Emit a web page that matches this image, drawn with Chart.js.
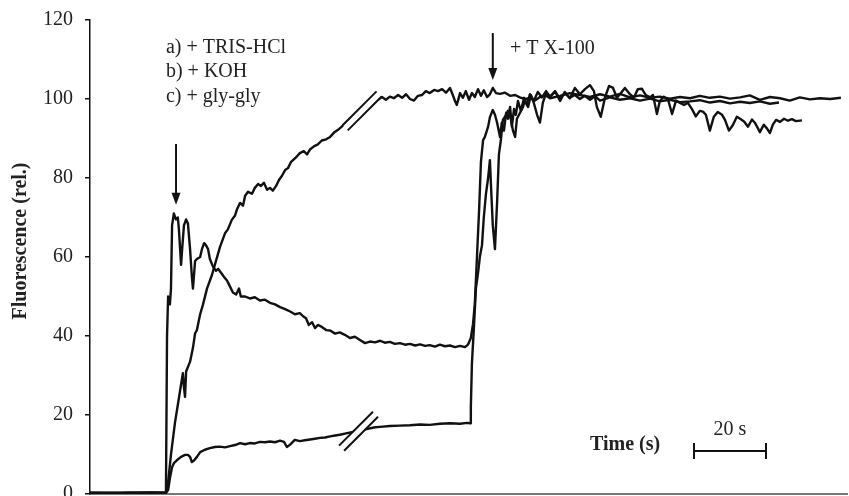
<!DOCTYPE html>
<html><head><meta charset="utf-8">
<script src="https://cdn.jsdelivr.net/npm/chart.js@4"></script>
<style>html,body{margin:0;padding:0;background:#fff;}</style>
</head><body>
<canvas id="c" width="849" height="496"></canvas>
<script>
// time (s), fluorescence (rel.)
const curveTrisHCl = [[0,0.2],[11.1,0.4],[21.1,0.3],[21.4,40],[21.7,50],[22.2,48],[22.5,52],[22.8,68],[23.3,71],[23.9,69.5],[24.4,70],[24.7,67],[25.3,58],[25.6,62],[26.1,68],[26.7,69.5],[27.2,68.5],[27.8,62],[28.3,55],[28.6,52],[29.2,59],[29.7,59.5],[30.6,60],[31.1,62],[31.7,63.5],[32.2,63],[32.8,62],[33.3,59.5],[34.2,57.5],[35.0,56.5],[35.6,57],[36.4,56],[37.2,55],[38.1,54],[38.9,52.5],[39.7,51],[40.6,50.5],[41.4,52],[41.9,50],[43.1,50],[44.4,49.5],[45.8,49.8],[47.2,49],[48.6,49.2],[50.0,48.4],[51.4,48],[52.8,47.3],[54.2,46.8],[55.6,46.2],[56.9,45.5],[58.3,45.8],[59.2,45],[60.0,44.5],[60.8,42.8],[61.7,43.5],[62.5,42],[63.3,42.8],[64.4,42.3],[65.6,41.5],[66.7,41.4],[68.1,40.6],[69.4,40.9],[70.8,40.3],[72.2,39.5],[73.6,39.8],[75.0,39],[76.4,38.2],[77.8,38.6],[79.2,38.4],[80.6,38.8],[81.9,38.3],[83.3,38.5],[84.7,38],[86.1,38.2],[87.5,37.8],[88.9,38],[90.3,37.6],[91.7,37.9],[93.1,37.5],[94.4,37.7],[95.8,37.3],[97.2,37.8],[98.6,37.4],[100.0,37.6],[101.4,37.2],[102.8,37.5],[104.2,37.2],[105.0,37.8],[105.8,39.5],[106.4,43],[106.9,48],[107.5,60],[108.1,72],[108.6,84],[109.2,89.6],[109.7,90.4],[110.6,93],[111.1,95.4],[111.9,97.2],[112.5,96],[113.1,94],[113.9,90.4],[114.4,94],[115.0,92],[115.6,96.5],[116.1,95],[116.7,98],[117.2,93],[117.8,97.5],[118.3,96],[118.9,99.5],[119.7,97],[120.6,100.3],[121.4,98.5],[122.2,101.2],[123.3,99.5],[124.4,101.8],[125.6,100.4],[126.7,102],[127.8,100.6],[129.2,101.8],[130.6,100.2],[131.9,101.5],[133.3,100.3],[134.7,101],[136.1,100],[137.5,100.8],[138.9,99.8],[140.3,100.7],[141.7,99.6],[144.4,100.4],[147.2,99.8],[150.0,100.2],[152.8,99.6],[155.6,100.1],[158.3,99.4],[161.1,99.8],[163.9,99.2],[166.7,99.4],[169.4,99.7],[172.2,99.1],[175.0,99.5],[177.8,98.9],[180.6,99.3],[183.3,99],[186.1,99.4],[188.9,98.8],[191.4,99.1]];

const curveKOH = [[0,0.3],[8.3,0.2],[16.7,0.4],[21.1,0.3],[21.7,3],[22.5,10],[23.6,18],[25.0,26],[25.8,30.6],[26.1,27],[26.4,24.6],[26.7,31],[27.8,33.5],[28.6,37],[29.2,40.7],[29.7,41.5],[30.6,45.5],[31.4,48],[32.5,52],[33.9,55.5],[35.0,59],[36.1,62.5],[37.5,66],[38.3,67],[39.4,69.4],[40.3,70.5],[40.8,72],[41.7,73.7],[42.5,73],[43.1,75.5],[43.9,76.5],[45.0,76],[45.8,77.5],[46.7,78.5],[47.5,78],[48.3,78.8],[49.2,77],[50.0,77.5],[50.8,76.8],[51.7,78],[52.5,79.5],[53.3,80.5],[54.2,82],[55.0,82.5],[55.8,84],[56.7,84.8],[57.5,85.5],[58.3,86.3],[59.4,86.8],[60.3,86],[61.1,87.2],[62.2,88],[63.3,88.5],[64.4,89.5],[65.6,89.8],[66.7,90.4],[67.8,91.5],[68.9,92.2],[69.7,92.8],[70.6,93.6],[71.7,94.5],[81.1,100.5],[82.2,99.8],[83.3,100.6],[84.4,100.2],[85.6,101],[86.7,100.3],[87.8,101.2],[88.9,100],[90.0,99.6],[91.1,100.8],[92.2,101],[93.3,102],[94.4,101.5],[95.6,102.3],[96.7,102],[97.8,102.5],[98.9,101.6],[100.0,102.8],[100.8,101],[101.4,99.5],[101.9,98.5],[102.8,101.5],[103.6,100.3],[104.4,102],[105.3,99.8],[106.1,101.5],[106.9,100.5],[107.8,102.5],[108.6,100.8],[109.4,102.2],[110.3,100.5],[111.1,101.2],[111.9,102.8],[112.8,101.5],[113.9,101.3],[115.3,101.6],[116.7,100.8],[118.1,101],[119.4,100.4],[120.8,100],[122.2,100.2],[123.6,99.6],[125.0,100.5],[126.4,101],[127.8,100.2],[130.6,100.8],[133.3,101.5],[136.1,101],[138.9,100.5],[141.7,101.2],[144.4,100.6],[147.2,101.3],[150.0,100.4],[152.8,100.9],[155.6,100.3],[158.3,100.6],[161.1,100.1],[163.9,100.5],[166.7,100.2],[169.4,100.8],[172.2,100.3],[175.0,100.6],[177.8,100.1],[180.6,100.4],[183.3,100.9],[186.1,99.8],[188.9,100.5],[191.7,100.2],[194.4,99.6],[197.2,100.4],[200.0,99.9],[202.8,100.2],[205.6,100],[208.6,100.3]];

const curveGlyGly = [[0,0.3],[13.9,0.2],[21.1,0.3],[21.7,1],[22.2,4],[22.8,6.8],[23.3,7.8],[24.2,8.6],[25.3,9.4],[26.4,9.9],[27.2,9.9],[27.8,9.4],[28.3,8.1],[28.9,8.5],[29.7,9.4],[30.6,10.6],[31.9,11.2],[33.3,11.6],[34.7,11.9],[36.1,12],[37.5,11.8],[38.9,12.1],[40.3,12.4],[41.7,12.9],[43.1,12.6],[44.4,12.9],[45.8,12.8],[47.2,13.2],[48.6,13.1],[50.0,13.3],[51.4,13.1],[52.8,13.5],[53.9,13.2],[54.7,11.9],[55.6,12.5],[56.9,13.7],[58.3,13.4],[59.7,13.6],[61.1,13.8],[62.5,14],[63.9,14.2],[65.3,14.3],[66.7,14.6],[68.1,14.8],[69.4,15],[70.8,15.3],[79.2,16.9],[80.6,17],[83.3,17.2],[86.1,17.3],[88.9,17.4],[91.7,17.6],[94.4,17.5],[97.2,17.8],[100.0,17.9],[102.8,17.8],[104.7,18],[105.6,17.9],[105.8,22],[106.1,33],[106.7,43],[107.2,52],[107.8,56],[108.3,60],[108.9,63],[109.4,70],[110.0,76],[110.6,80],[111.1,84.5],[111.4,78],[111.9,68],[112.5,62],[113.1,74],[113.6,86],[114.2,90],[114.7,94.7],[115.6,96],[116.1,97],[116.9,95],[117.5,92],[118.1,90.4],[118.6,95],[119.4,96.4],[120.3,98],[120.8,99.7],[121.7,98],[122.5,101],[123.3,99],[124.2,96],[125.0,94],[125.8,99],[126.7,101.5],[127.8,100.5],[129.2,102],[130.6,99.5],[131.9,101.8],[133.3,100.2],[134.7,102.8],[136.1,101.2],[137.5,102.5],[138.9,103.5],[140.0,102],[140.8,98],[141.9,95.5],[143.1,100.5],[144.2,103.3],[145.3,102.8],[146.4,100.3],[147.5,101.5],[148.6,102.8],[150.0,101.2],[151.1,100.4],[152.2,102.5],[153.3,102.6],[154.4,101],[155.6,100.4],[156.4,101],[157.5,96.2],[158.3,99.5],[159.4,100.6],[160.6,99.8],[161.7,96.2],[162.8,99.6],[163.9,99],[165.0,98.5],[166.1,99],[167.2,97.5],[168.3,95.6],[169.4,97],[170.3,96.8],[171.1,96],[172.2,92],[173.3,95.5],[174.4,96.7],[175.6,96],[176.4,94.7],[177.5,92],[178.6,93.4],[179.7,95.5],[180.6,95],[181.7,94.3],[182.8,93],[183.9,94.8],[184.7,94],[185.6,92.5],[186.1,91.6],[187.2,93.5],[188.1,92.5],[188.9,91.4],[189.7,93.5],[190.6,94.7],[191.7,94.2],[192.8,95],[193.9,94.5],[195.0,94.9],[196.1,94.4],[197.8,94.6]];

const yTicks = [0, 20, 40, 60, 80, 100, 120];
const legendLines = ['a) + TRIS-HCl', 'b) + KOH', 'c) + gly-gly'];
const additionLabel = '+ T X-100';
const xTitle = 'Time (s)';
const yTitle = 'Fluorescence (rel.)';
const scaleBarSeconds = 20;
const addTimes = [23.9, 111.9]; // arrow times (s)

const SERIF = "'Liberation Serif', 'Times New Roman', serif";
const toXY = a => a.map(p => ({x: p[0], y: p[1]}));
const ds = (label, arr) => ({label, data: toXY(arr), borderColor: '#111', borderWidth: 2.4,
  pointRadius: 0, tension: 0, fill: false, borderJoinStyle: 'round'});

const deco = {
  id: 'deco',
  afterDatasetsDraw(chart) {
    const {ctx, scales: {x, y}} = chart;
    const X = v => x.getPixelForValue(v), Y = v => y.getPixelForValue(v);
    ctx.save();
    function brk(t, v) {
      const cx = X(t), cy = Y(v);
      const ux = 0.707, uy = -0.707, nx = 0.707, ny = 0.707, h = 24, off = 3.6;
      ctx.lineCap = 'butt';
      ctx.strokeStyle = '#fff'; ctx.lineWidth = 6;
      ctx.beginPath(); ctx.moveTo(cx - ux*h, cy - uy*h); ctx.lineTo(cx + ux*h, cy + uy*h); ctx.stroke();
      ctx.strokeStyle = '#111'; ctx.lineWidth = 2;
      [-off, off].forEach(o => {
        const ox = cx + nx*o, oy = cy + ny*o;
        ctx.beginPath(); ctx.moveTo(ox - ux*h, oy - uy*h); ctx.lineTo(ox + ux*h, oy + uy*h); ctx.stroke();
      });
    }
    brk(75.6, 97.0);
    brk(74.6, 15.9);
    function arrow(t, v0, v1) {
      const px = X(t), y0 = Y(v0), y1 = Y(v1);
      ctx.strokeStyle = '#111'; ctx.fillStyle = '#111'; ctx.lineWidth = 2;
      ctx.beginPath(); ctx.moveTo(px, y0); ctx.lineTo(px, y1 - 10); ctx.stroke();
      ctx.beginPath(); ctx.moveTo(px - 4.5, y1 - 12); ctx.lineTo(px + 4.5, y1 - 12); ctx.lineTo(px, y1); ctx.closePath(); ctx.fill();
    }
    arrow(addTimes[0], 88.6, 73.2);
    arrow(addTimes[1], 116.7, 104.8);
    ctx.fillStyle = '#222';
    ctx.font = '20px ' + SERIF;
    ctx.textAlign = 'left'; ctx.textBaseline = 'middle';
    ctx.fillText(legendLines[0], X(21.1), Y(112.9));
    ctx.fillText(legendLines[1], X(21.1), Y(106.8));
    ctx.fillText(legendLines[2], X(21.1), Y(100.6));
    ctx.fillText(additionLabel, X(116.7), Y(112.7));
    ctx.font = 'bold 20px ' + SERIF;
    ctx.fillText(xTitle, X(138.9), Y(12.4));
    const b0 = X(167.8), b1 = X(167.8 + scaleBarSeconds), by = Y(10.9);
    ctx.strokeStyle = '#111'; ctx.lineWidth = 2;
    ctx.beginPath(); ctx.moveTo(b0, by); ctx.lineTo(b1, by);
    ctx.moveTo(b0, by - 8); ctx.lineTo(b0, by + 8);
    ctx.moveTo(b1, by - 8); ctx.lineTo(b1, by + 8); ctx.stroke();
    ctx.font = '20px ' + SERIF; ctx.textAlign = 'center';
    ctx.fillText(scaleBarSeconds + ' s', (b0 + b1) / 2, Y(16.3));
    ctx.font = 'bold 20px ' + SERIF;
    ctx.translate(21, (Y(0) + Y(120)) / 2 - 16);
    ctx.rotate(-Math.PI / 2);
    ctx.textAlign = 'center'; ctx.textBaseline = 'middle';
    ctx.fillText(yTitle, 0, 0);
    ctx.restore();
  }
};

new Chart(document.getElementById('c'), {
  type: 'line',
  data: {datasets: [ds('a) TRIS-HCl', curveTrisHCl), ds('b) KOH', curveKOH), ds('c) gly-gly', curveGlyGly)]},
  options: {
    responsive: false, animation: false,
    layout: {padding: {top: 20, right: 2, left: 0, bottom: 0}},
    plugins: {legend: {display: false}, tooltip: {enabled: false}},
    scales: {
      x: {type: 'linear', min: 0, max: 210.3,
        ticks: {display: false}, grid: {display: false, drawTicks: false},
        border: {display: true, color: '#777', width: 2},
        afterFit(s) { s.height = 2; s.paddingLeft = 0; s.paddingRight = 0; }},
      y: {type: 'linear', min: 0, max: 120,
        afterBuildTicks(s) { s.ticks = yTicks.map(v => ({value: v})); },
        ticks: {color: '#222', padding: 12, font: {family: SERIF, size: 20}},
        grid: {display: true, drawOnChartArea: false, drawTicks: true, tickLength: 5, color: '#111', lineWidth: 1.5},
        border: {display: true, color: '#111', width: 1.5},
        afterFit(s) { s.width = 90; s.paddingTop = 0; s.paddingBottom = 0; }}
    }
  },
  plugins: [deco]
});
</script>
</body></html>
